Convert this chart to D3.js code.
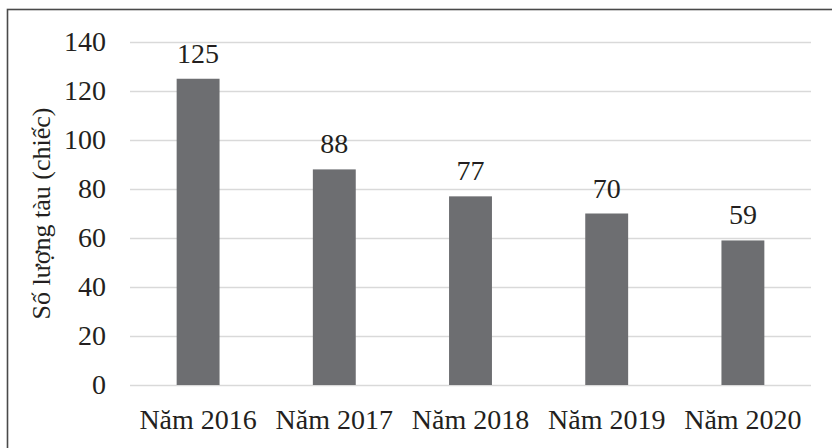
<!DOCTYPE html>
<html>
<head>
<meta charset="utf-8">
<script src="https://cdn.jsdelivr.net/npm/d3@7"></script>
<style>
  html, body { margin: 0; padding: 0; background: #fff; }
  svg { display: block; }
</style>
</head>
<body>
<svg id="chart" width="832" height="448"></svg>
<script>
// Số lượng tàu theo năm
const categories = ["Năm 2016", "Năm 2017", "Năm 2018", "Năm 2019", "Năm 2020"];
const values = [125, 88, 77, 70, 59];
const yTicks = [0, 20, 40, 60, 80, 100, 120, 140];
const yTitle = "Số lượng tàu (chiếc)";

const W = 832, H = 448;
const margin = { left: 130, right: 21, top: 42, bottom: 63 };
const FONT = '"Liberation Serif"';
const fontSize = 28;
const textColor = "#231f20";

function styleText(sel, size) {
  return sel
    .style("font-family", FONT)
    .style("font-size", size + "px")
    .style("fill", textColor);
}

const svg = d3.select("#chart");

// Khung viền (chỉ thấy cạnh trên và cạnh trái)
svg.append("rect")
  .attr("x", 7.5).attr("y", 9.5)
  .attr("width", W + 20).attr("height", H + 20)
  .attr("fill", "none")
  .attr("stroke", "#4a4a4a")
  .attr("stroke-width", 1.6);

const x = d3.scaleBand()
  .domain(categories)
  .range([margin.left, W - margin.right])
  .paddingInner(0.685)
  .paddingOuter(0.3425);

const y = d3.scaleLinear()
  .domain([0, 140])
  .range([H - margin.bottom, margin.top]);

// Lưới ngang
const yAxis = d3.axisLeft(y)
  .tickValues(yTicks)
  .tickSize(-(W - margin.left - margin.right))
  .tickPadding(24);

const gy = svg.append("g")
  .attr("transform", `translate(${margin.left},0)`)
  .call(yAxis);
gy.select(".domain").remove();
gy.selectAll(".tick line")
  .attr("stroke", "#d9d9d9")
  .attr("stroke-width", 1.6);
styleText(gy.selectAll(".tick text"), fontSize);

// Cột
svg.append("g")
  .selectAll("rect")
  .data(values)
  .join("rect")
  .attr("x", (d, i) => x(categories[i]))
  .attr("y", d => y(d))
  .attr("width", x.bandwidth())
  .attr("height", d => y(0) - y(d))
  .attr("fill", "#6d6e71");

// Nhãn giá trị
styleText(
  svg.append("g")
    .selectAll("text")
    .data(values)
    .join("text")
    .attr("x", (d, i) => x(categories[i]) + x.bandwidth() / 2)
    .attr("y", d => y(d) - 16)
    .attr("text-anchor", "middle")
    .text(d => d),
  fontSize);

// Trục hoành
const xAxis = d3.axisBottom(x).tickSize(0).tickPadding(0);
const gx = svg.append("g")
  .attr("transform", `translate(0,${H - margin.bottom})`)
  .call(xAxis);
gx.select(".domain").remove();
styleText(
  gx.selectAll(".tick text")
    .attr("dy", null)
    .attr("y", 44),
  fontSize);

// Tiêu đề trục tung
styleText(
  svg.append("text")
    .attr("transform", `translate(50,${(margin.top + H - margin.bottom) / 2}) rotate(-90)`)
    .attr("text-anchor", "middle")
    .text(yTitle),
  26);
</script>
</body>
</html>
